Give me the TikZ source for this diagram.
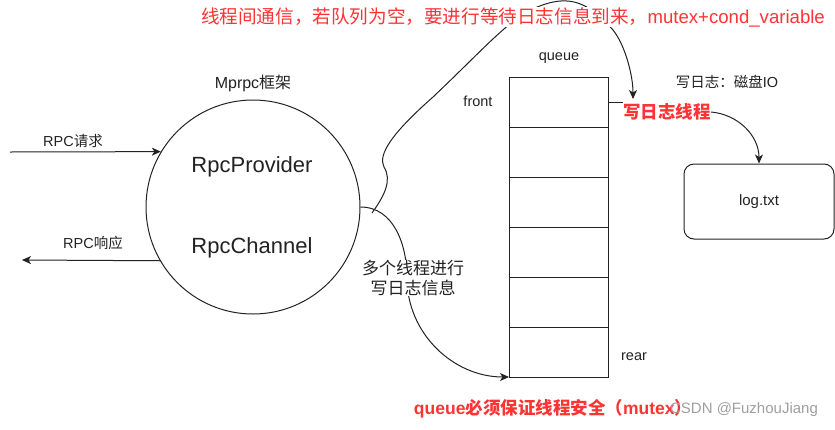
\documentclass[tikz,border=0pt]{standalone}
\usepackage{fontspec}
\setmainfont{Liberation Sans}
\newfontfamily\cjk{Noto Sans CJK SC}
\newcommand\zh[1]{{\cjk #1}}
\usetikzlibrary{arrows.meta}
\definecolor{redtxt}{RGB}{255,51,51}
\definecolor{ink}{RGB}{34,34,34}
\begin{document}
\begin{tikzpicture}[x=1pt,y=-1pt,
  every node/.style={inner sep=0pt, text=ink, font=\fontsize{14.5}{16}\selectfont},
  conn/.style={line width=1pt, draw=ink},
  arr/.style={conn, -{Stealth[length=9pt,width=8pt,inset=2.5pt]}},
  redlbl/.style={text=redtxt, font=\fontsize{17.5}{20}\selectfont\bfseries},
  cell/.style={draw=ink, line width=1pt, minimum width=99pt, minimum height=50pt, outer sep=0pt},
  big/.style={font=\fontsize{22}{26}\selectfont},
]
\useasboundingbox (0,0) rectangle (835,429);

% framework circle
\node[draw=ink, circle, line width=1pt, minimum size=214pt] (c) at (253,207) {};
\node[font=\fontsize{16}{18}\selectfont] (mp) at (253,83) {Mprpc\zh{框架}};
\node[big] (prov) at (252,167) {RpcProvider};
\node[big] (chan) at (252,248) {RpcChannel};

% rpc request / response
\coordinate (rqs) at (10,152);
\draw[arr] (rqs) -- (c.149);
\node (rq) at (73,141) {RPC\zh{请求}};
\coordinate (rse) at (22,260);
\draw[arr] (c.210) -- (rse);
\node (rs) at (93,243) {RPC\zh{响应}};

% queue
\foreach \i in {1,...,6} \node[cell] (q\i) at (558.5,{52+50*\i}) {};
\node (ql) at (559,58) {queue};
\node (fr) at (478,101) {front};
\node (re) at (634,357) {rear};

% writer thread and log file
\node[redlbl] (th) at (667,112) {\zh{写日志线程}};
\draw[conn] (q1.east) -- (q1.east -| th.west);
\node (io) at (727,82) {\zh{写日志：磁盘}IO};
\node[draw=ink, line width=1pt, rounded corners=10pt, minimum width=150pt, minimum height=75pt,
      font=\fontsize{15}{18}\selectfont] (log) at (759,201.5) {log.txt};
\draw[arr] (th.east) to[out=-5,in=90] (log.north);

% multiple threads write log info
\coordinate (mid) at (407,278);
\draw[arr] (c.east) to[out=0,in=90] (mid) to[out=-90,in=180] (q6.south west);
\node[fill=white, align=center, font=\fontsize{17}{20}\selectfont] (mt) at (413,278)
  {\zh{多个线程进行}\\\zh{写日志信息}};

% inter-thread communication curve
\coordinate (ts) at (372,213);
\coordinate (tt) at (633,99);
\draw[arr] (ts) .. controls (385,195) and (392,180) .. (384,167)
  .. controls (378,155) and (390,135) .. (433,97)
  .. controls (470,62) and (495,35) .. (515,20)
  .. controls (535,5) and (555,0) .. (567,1)
  .. controls (585,2) and (600,15) .. (613,30)
  .. controls (625,45) and (633,75) .. (tt);
\node[fill=white, text=redtxt, font=\fontsize{18.6}{22}\selectfont] (top) at (513,17)
  {\zh{线程间通信，若队列为空，要进行等待日志信息到来，}mutex+cond\_variable};

% bottom note
\node[redlbl] (safe) at (553,409) {queue\zh{必须保证线程安全（}mutex\zh{）}};
\node[text=gray!75, font=\fontsize{15}{18}\selectfont] (wm) at (744,410) {CSDN @FuzhouJiang};
\end{tikzpicture}
\end{document}
